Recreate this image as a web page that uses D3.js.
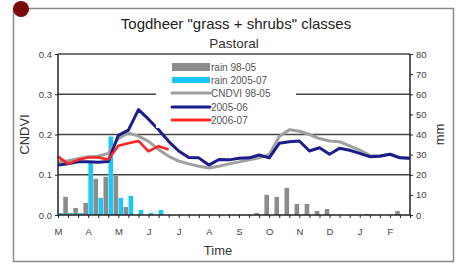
<!DOCTYPE html>
<html><head><meta charset="utf-8">
<script src="https://cdn.jsdelivr.net/npm/d3@7"></script>
<style>
html,body{margin:0;padding:0;background:#fff;}
svg{display:block;font-family:"Liberation Sans",Arial,sans-serif;}
</style></head>
<body><svg id="c" width="460" height="264"></svg>
<script>
// ---- data (dekads, March -> February) ----
const monthLabels = ["M","A","M","J","J","A","S","O","N","D","J","F"];
const dekads = d3.range(36);
const rain9805 = [0,9,3.5,6,18,19,19.5,4,0,0,0,0,0,0,0,0,0,0,0,0,1,10,9,13.5,5.5,5.5,2,3,0,0,0,0.5,0,0,2,0];
const rain0507 = [1,1,1,26,8.5,39,8.5,9.5,2.5,1,2.5,0,0,0,0,0,0,0,0,0,0,0,0,0,0,0,0,0,0,0,0,0,0,0,0,0];
const cndvi9805 = [0.132,0.135,0.140,0.145,0.146,0.153,0.190,0.204,0.196,0.183,0.163,0.146,0.134,0.127,0.121,0.117,0.121,0.127,0.132,0.137,0.142,0.150,0.195,0.212,0.208,0.200,0.190,0.184,0.182,0.172,0.161,0.148,0.147,0.151,0.143,0.141];
const ndvi0506 = [0.124,0.127,0.132,0.132,0.131,0.133,0.198,0.211,0.262,0.238,0.212,0.183,0.159,0.143,0.142,0.124,0.138,0.137,0.141,0.142,0.149,0.142,0.178,0.182,0.184,0.159,0.167,0.151,0.166,0.161,0.153,0.145,0.146,0.151,0.142,0.141];
const ndvi0607 = [0.145,0.127,0.137,0.143,0.143,0.138,0.172,0.178,0.184,0.158,0.171,0.163];
const leftTicks = [0,0.1,0.2,0.3,0.4];
const rightTicks = [0,10,20,30,40,50,60,70,80];
const legendItems = [
  {label:"rain 98-05", type:"bar", color:"#8c8c8c"},
  {label:"rain 2005-07", type:"bar2", color:"#19c8f5"},
  {label:"CNDVI 98-05", type:"line", color:"#a0a0a0"},
  {label:"2005-06", type:"line", color:"#1c1c8a"},
  {label:"2006-07", type:"line", color:"#ff2424"}
];

const svg = d3.select("#c");
const L = 58, R = 410, T = 54, B = 215;

// outer frame
svg.append("rect").attr("x",13.5).attr("y",8.5).attr("width",440).attr("height",253)
  .attr("fill","none").attr("stroke","#8a8a8a").attr("stroke-width",1.5);
svg.append("circle").attr("cx",21).attr("cy",9).attr("r",8).attr("fill","#7a0a0a");

const x = d3.scalePoint().domain(dekads).range([L,R]);
const y = d3.scaleLinear().domain([0,0.4]).range([B,T]);
const y2 = d3.scaleLinear().domain([0,80]).range([B,T]);
const sub = d3.scaleBand().domain(["a","b"]).range([-4.8,4.8]).paddingInner(0.08);

// titles
svg.append("text").attr("x",236).attr("y",28.5).attr("text-anchor","middle")
  .attr("font-size",15).attr("fill","#222").text("Togdheer \"grass + shrubs\" classes");
svg.append("text").attr("x",234).attr("y",48).attr("text-anchor","middle")
  .attr("font-size",13.5).attr("fill","#333").text("Pastoral");

// gridlines
svg.append("g").selectAll("line").data(leftTicks.filter(d=>d>0)).join("line")
  .attr("x1",L).attr("x2",R).attr("y1",d=>y(d)).attr("y2",d=>y(d))
  .attr("stroke","#444").attr("stroke-width",1.3);

// bars
const bars = svg.append("g");
bars.selectAll(".g").data(dekads).join("rect")
  .attr("x",i=>x(i)+sub("a")).attr("width",sub.bandwidth())
  .attr("y",i=>y2(rain9805[i])).attr("height",i=>B-y2(rain9805[i]))
  .attr("fill","#8c8c8c");
bars.selectAll(".c").data(dekads).join("rect")
  .attr("x",i=>x(i)+sub("b")).attr("width",sub.bandwidth())
  .attr("y",i=>y2(rain0507[i])).attr("height",i=>B-y2(rain0507[i]))
  .attr("fill","#19c8f5");

// lines
const line = d3.line().x((d,i)=>x(i)).y(d=>y(d));
svg.append("path").datum(cndvi9805).attr("d",line).attr("fill","none")
  .attr("stroke","#a0a0a0").attr("stroke-width",3).attr("stroke-linejoin","round");
svg.append("path").datum(ndvi0506).attr("d",line).attr("fill","none")
  .attr("stroke","#1c1c8a").attr("stroke-width",3).attr("stroke-linejoin","round");
svg.append("path").datum(ndvi0607).attr("d",line).attr("fill","none")
  .attr("stroke","#ff2424").attr("stroke-width",2.6).attr("stroke-linejoin","round");

// axes
const ax = svg.append("g").attr("transform",`translate(0,${B})`)
  .call(d3.axisBottom(x).tickSize(3).tickFormat(i=> i%3===0 ? monthLabels[i/3] : ""));
const al = svg.append("g").attr("transform",`translate(${L},0)`)
  .call(d3.axisLeft(y).tickValues(leftTicks).tickSize(3).tickFormat(d3.format(".1f")));
const ar = svg.append("g").attr("transform",`translate(${R},0)`)
  .call(d3.axisRight(y2).tickValues(rightTicks).tickSize(3).tickFormat(d3.format("d")));
[ax,al,ar].forEach(g=>{
  g.select(".domain").attr("stroke","#222").attr("stroke-width",1.5);
  g.selectAll(".tick line").attr("stroke","#222");
  g.selectAll("text").attr("font-size",9.5).attr("fill","#444").attr("font-family","Liberation Sans, Arial, sans-serif");
});
ax.select(".domain").attr("d",`M${L},0H${R}`);
al.select(".domain").attr("d",`M0,${T}V${B}`);
ar.select(".domain").attr("d",`M0,${T}V${B}`);
ax.selectAll("text").attr("y",13);

svg.append("text").attr("transform",`translate(29,${(T+B)/2}) rotate(-90)`)
  .attr("text-anchor","middle").attr("font-size",13).attr("fill","#333").text("CNDVI");
svg.append("text").attr("transform",`translate(444,${(T+B)/2}) rotate(-90)`)
  .attr("text-anchor","middle").attr("font-size",13).attr("fill","#333").text("mm");
svg.append("text").attr("x",218).attr("y",255).attr("text-anchor","middle")
  .attr("font-size",13).attr("fill","#333").text("Time");

// legend
const lg = svg.append("g");
lg.append("rect").attr("x",156).attr("y",58).attr("width",140).attr("height",70).attr("fill","#fff");
const rowY = [67,80,93,107,120];
legendItems.forEach((it,k)=>{
  const yy = rowY[k];
  if(it.type==="bar"){
    lg.append("rect").attr("x",172).attr("y",yy-4).attr("width",38).attr("height",8).attr("fill",it.color);
  } else if(it.type==="bar2"){
    lg.append("rect").attr("x",172).attr("y",yy-3).attr("width",38).attr("height",6).attr("fill",it.color);
  } else {
    lg.append("line").attr("x1",172).attr("x2",210).attr("y1",yy).attr("y2",yy)
      .attr("stroke",it.color).attr("stroke-width",3).attr("stroke-linecap","round");
  }
  lg.append("text").attr("x",211).attr("y",yy+3.5).attr("font-size",10).attr("fill","#555").text(it.label);
});
</script></body></html>
